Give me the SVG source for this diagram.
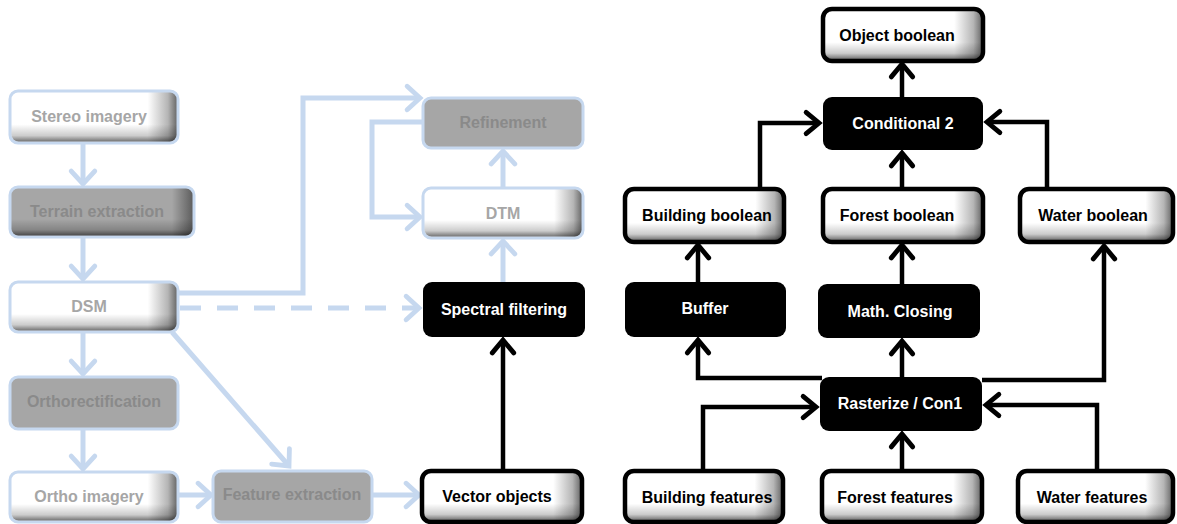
<svg xmlns="http://www.w3.org/2000/svg" width="1177" height="524" viewBox="0 0 1177 524">
  <defs>
    <style>
      .lbl { font-family: "Liberation Sans", Arial, sans-serif; font-weight: bold; font-size: 16px; text-anchor: middle; }
      .t-fade { fill: #a6a6a6; }
      .t-gray { fill: #8a8a8a; }
      .t-white { fill: #ffffff; }
      .t-black { fill: #000000; }
      .box-fade { stroke: #c6d8ef; stroke-width: 3; }
      .box-gray { fill: #a6a6a6; stroke: #c6d8ef; stroke-width: 3; }
      .box-black { fill: #000000; }
      .box-white { stroke: #000000; stroke-width: 4.5; }
      .shade { fill: url(#shadeB); stroke: none; }
      .link-blue { fill: none; stroke: #c6d8ef; stroke-width: 5; }
      .link-black { fill: none; stroke: #000000; stroke-width: 4.5; }
    </style>
    <!-- white bevel: fades to grey on the right edge -->
    <linearGradient id="shadeR" x1="0" y1="0" x2="1" y2="0">
      <stop offset="0" stop-color="#ffffff"/>
      <stop offset="0.82" stop-color="#ffffff"/>
      <stop offset="0.94" stop-color="#b5b5b5"/>
      <stop offset="1" stop-color="#606060"/>
    </linearGradient>
    <!-- bottom edge darkening, laid over the fill -->
    <linearGradient id="shadeB" x1="0" y1="0" x2="0" y2="1">
      <stop offset="0" stop-color="#000000" stop-opacity="0"/>
      <stop offset="0.65" stop-color="#000000" stop-opacity="0"/>
      <stop offset="0.88" stop-color="#000000" stop-opacity="0.2"/>
      <stop offset="1" stop-color="#000000" stop-opacity="0.55"/>
    </linearGradient>
    <linearGradient id="shadeGrayR" x1="0" y1="0" x2="1" y2="0">
      <stop offset="0" stop-color="#a6a6a6"/>
      <stop offset="0.88" stop-color="#a6a6a6"/>
      <stop offset="1" stop-color="#5a5a5a"/>
    </linearGradient>
    <marker id="arrBlack" markerUnits="userSpaceOnUse" markerWidth="30" markerHeight="30" refX="0" refY="0" viewBox="-16 -14 20 28" orient="auto" overflow="visible">
      <path d="M -12 -10 L 0 0 L -12 10" fill="none" stroke="#000000" stroke-width="4.5" stroke-linecap="round" stroke-linejoin="miter"/>
    </marker>
    <marker id="arrBlue" markerUnits="userSpaceOnUse" markerWidth="30" markerHeight="30" refX="0" refY="0" viewBox="-16 -14 20 28" orient="auto" overflow="visible">
      <path d="M -12 -11 L 0 0 L -12 11" fill="none" stroke="#c6d8ef" stroke-width="4.5" stroke-linecap="round" stroke-linejoin="miter"/>
    </marker>
  </defs>

  <rect width="1177" height="524" fill="#ffffff"/>

  <!-- connectors -->
  <g id="connectors">
    <!-- faded processing chain -->
    <path class="link-blue" d="M 83 143 V 184" marker-end="url(#arrBlue)"/>
    <path class="link-blue" d="M 83 237 V 279" marker-end="url(#arrBlue)"/>
    <path class="link-blue" d="M 83 332 V 374" marker-end="url(#arrBlue)"/>
    <path class="link-blue" d="M 83 429 V 469" marker-end="url(#arrBlue)"/>
    <path class="link-blue" d="M 178 495 H 211" marker-end="url(#arrBlue)"/>
    <path class="link-blue" d="M 372 495 H 419" marker-end="url(#arrBlue)"/>
    <path class="link-blue" d="M 172 332 L 289 466" marker-end="url(#arrBlue)"/>
    <path class="link-blue" d="M 178 293 H 303 V 98 H 420" marker-end="url(#arrBlue)"/>
    <path class="link-blue" d="M 180 308 H 419" stroke-dasharray="21 16" marker-end="url(#arrBlue)"/>
    <path class="link-blue" d="M 423 122 H 372 V 217 H 420" stroke-width="4" marker-end="url(#arrBlue)"/>
    <path class="link-blue" d="M 503 188 V 151" marker-end="url(#arrBlue)"/>
    <path class="link-blue" d="M 503 282 V 241" marker-end="url(#arrBlue)"/>

    <!-- object boolean chain -->
    <path class="link-black" d="M 503 471 V 340" marker-end="url(#arrBlack)"/>
    <path class="link-black" d="M 902 97 V 64" marker-end="url(#arrBlack)"/>
    <path class="link-black" d="M 760 189 V 123 H 819" marker-end="url(#arrBlack)"/>
    <path class="link-black" d="M 902 189 V 153" marker-end="url(#arrBlack)"/>
    <path class="link-black" d="M 1047 189 V 122 H 987" marker-end="url(#arrBlack)"/>
    <path class="link-black" d="M 698 282 V 245" marker-end="url(#arrBlack)"/>
    <path class="link-black" d="M 902 284 V 245" marker-end="url(#arrBlack)"/>
    <path class="link-black" d="M 982 380 H 1104 V 246" marker-end="url(#arrBlack)"/>
    <path class="link-black" d="M 822 378 H 698 V 340" marker-end="url(#arrBlack)"/>
    <path class="link-black" d="M 902 377 V 341" marker-end="url(#arrBlack)"/>
    <path class="link-black" d="M 703 471 V 407 H 816" marker-end="url(#arrBlack)"/>
    <path class="link-black" d="M 902 471 V 434" marker-end="url(#arrBlack)"/>
    <path class="link-black" d="M 1097 471 V 405 H 986" marker-end="url(#arrBlack)"/>
  </g>

  <!-- faded nodes -->
  <g id="stereo-imagery">
    <rect class="box-fade" x="10" y="91" width="168" height="52" rx="8" fill="url(#shadeR)"/>
    <rect class="shade" x="11.5" y="92.5" width="165" height="49" rx="7"/>
    <text class="lbl t-fade" x="89" y="122">Stereo imagery</text>
  </g>
  <g id="terrain-extraction">
    <rect class="box-gray" x="10" y="187" width="184" height="50" rx="8" style="fill:url(#shadeGrayR)"/>
    <rect class="shade" x="11.5" y="188.5" width="181" height="47" rx="7"/>
    <text class="lbl t-gray" x="97" y="217">Terrain extraction</text>
  </g>
  <g id="dsm">
    <rect class="box-fade" x="10" y="282" width="168" height="50" rx="8" fill="url(#shadeR)"/>
    <rect class="shade" x="11.5" y="283.5" width="165" height="47" rx="7"/>
    <text class="lbl t-fade" x="89" y="312">DSM</text>
  </g>
  <g id="orthorectification">
    <rect class="box-gray" x="10" y="377" width="168" height="52" rx="8"/>
    <text class="lbl t-gray" x="94" y="407">Orthorectification</text>
  </g>
  <g id="ortho-imagery">
    <rect class="box-fade" x="10" y="472" width="168" height="50" rx="8" fill="url(#shadeR)"/>
    <rect class="shade" x="11.5" y="473.5" width="165" height="47" rx="7"/>
    <text class="lbl t-fade" x="89" y="502">Ortho imagery</text>
  </g>
  <g id="feature-extraction">
    <rect class="box-gray" x="213" y="471" width="159" height="51" rx="8"/>
    <text class="lbl t-gray" x="292" y="500">Feature extraction</text>
  </g>
  <g id="refinement">
    <rect class="box-gray" x="423" y="98" width="160" height="50" rx="8"/>
    <text class="lbl t-gray" x="503" y="128">Refinement</text>
  </g>
  <g id="dtm">
    <rect class="box-fade" x="423" y="188" width="160" height="50" rx="8" fill="url(#shadeR)"/>
    <rect class="shade" x="424.5" y="189.5" width="157" height="47" rx="7"/>
    <text class="lbl t-fade" x="503" y="219">DTM</text>
  </g>

  <!-- active nodes -->
  <g id="spectral-filtering">
    <rect class="box-black" x="423" y="282" width="162" height="55" rx="9"/>
    <text class="lbl t-white" x="504" y="315">Spectral filtering</text>
  </g>
  <g id="vector-objects">
    <rect class="box-white" x="422" y="471" width="160" height="51" rx="9" fill="url(#shadeR)"/>
    <rect class="shade" x="424" y="473" width="156" height="47" rx="7"/>
    <text class="lbl t-black" x="497" y="502">Vector objects</text>
  </g>
  <g id="object-boolean">
    <rect class="box-white" x="823" y="9" width="160" height="52" rx="9" fill="url(#shadeR)"/>
    <rect class="shade" x="825" y="11" width="156" height="48" rx="7"/>
    <text class="lbl t-black" x="897" y="41">Object boolean</text>
  </g>
  <g id="conditional-2">
    <rect class="box-black" x="823" y="97" width="160" height="53" rx="9"/>
    <text class="lbl t-white" x="903" y="129">Conditional 2</text>
  </g>
  <g id="building-boolean">
    <rect class="box-white" x="625" y="189" width="159" height="53" rx="9" fill="url(#shadeR)"/>
    <rect class="shade" x="627" y="191" width="155" height="49" rx="7"/>
    <text class="lbl t-black" x="707" y="221">Building boolean</text>
  </g>
  <g id="forest-boolean">
    <rect class="box-white" x="823" y="189" width="160" height="53" rx="9" fill="url(#shadeR)"/>
    <rect class="shade" x="825" y="191" width="156" height="49" rx="7"/>
    <text class="lbl t-black" x="897" y="221">Forest boolean</text>
  </g>
  <g id="water-boolean">
    <rect class="box-white" x="1020" y="189" width="153" height="53" rx="9" fill="url(#shadeR)"/>
    <rect class="shade" x="1022" y="191" width="149" height="49" rx="7"/>
    <text class="lbl t-black" x="1093" y="221">Water boolean</text>
  </g>
  <g id="buffer">
    <rect class="box-black" x="625" y="282" width="161" height="55" rx="9"/>
    <text class="lbl t-white" x="705" y="314">Buffer</text>
  </g>
  <g id="math-closing">
    <rect class="box-black" x="818" y="284" width="162" height="54" rx="9"/>
    <text class="lbl t-white" x="900" y="317">Math. Closing</text>
  </g>
  <g id="rasterize-con1">
    <rect class="box-black" x="820" y="377" width="162" height="54" rx="9"/>
    <text class="lbl t-white" x="900" y="409">Rasterize / Con1</text>
  </g>
  <g id="building-features">
    <rect class="box-white" x="625" y="471" width="158" height="51" rx="9" fill="url(#shadeR)"/>
    <rect class="shade" x="627" y="473" width="154" height="47" rx="7"/>
    <text class="lbl t-black" x="707" y="503">Building features</text>
  </g>
  <g id="forest-features">
    <rect class="box-white" x="822" y="471" width="160" height="51" rx="9" fill="url(#shadeR)"/>
    <rect class="shade" x="824" y="473" width="156" height="47" rx="7"/>
    <text class="lbl t-black" x="895" y="503">Forest features</text>
  </g>
  <g id="water-features">
    <rect class="box-white" x="1018" y="471" width="155" height="51" rx="9" fill="url(#shadeR)"/>
    <rect class="shade" x="1020" y="473" width="151" height="47" rx="7"/>
    <text class="lbl t-black" x="1092" y="503">Water features</text>
  </g>
</svg>
